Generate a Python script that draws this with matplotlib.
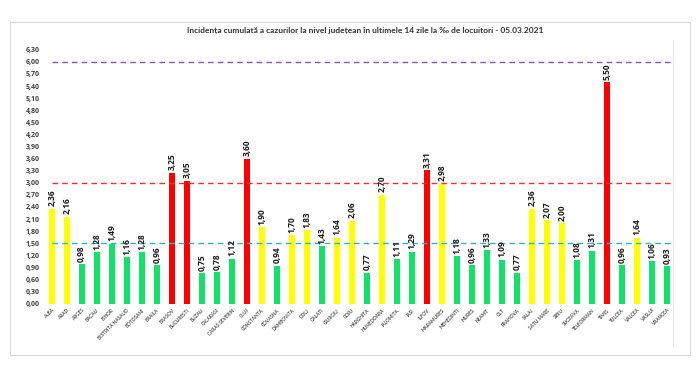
import matplotlib
matplotlib.use("Agg")
import matplotlib.pyplot as plt
from matplotlib.patches import Rectangle
from matplotlib.lines import Line2D
import numpy as np

plt.rcParams['font.family'] = ['Lato', 'DejaVu Sans']

counties = ["ALBA", "ARAD", "ARGES", "BACAU", "BIHOR", "BISTRITA NASAUD", "BOTOSANI", "BRAILA",
            "BRASOV", "BUCURESTI", "BUZAU", "CALARASI", "CARAS SEVERIN", "CLUJ", "CONSTANTA",
            "COVASNA", "DAMBOVITA", "DOLJ", "GALATI", "GIURGIU", "GORJ", "HARGHITA", "HUNEDOARA",
            "IALOMITA", "IASI", "ILFOV", "MARAMURES", "MEHEDINTI", "MURES", "NEAMT", "OLT",
            "PRAHOVA", "SALAJ", "SATU MARE", "SIBIU", "SUCEAVA", "TELEORMAN", "TIMIS", "TULCEA",
            "VALCEA", "VASLUI", "VRANCEA"]
values = [2.36, 2.16, 0.98, 1.28, 1.49, 1.16, 1.28, 0.96,
          3.25, 3.05, 0.75, 0.78, 1.12, 3.60, 1.90,
          0.94, 1.70, 1.83, 1.43, 1.64, 2.06, 0.77, 2.70,
          1.11, 1.29, 3.31, 2.98, 1.18, 0.96, 1.33, 1.09,
          0.77, 2.36, 2.07, 2.00, 1.08, 1.31, 5.50, 0.96,
          1.64, 1.06, 0.93]
thresholds = [1.5, 3.0, 6.0]
threshold_colors = ["#2fb3c9", "#ff2a2a", "#8a4fb8"]
title = "Incidența cumulată a cazurilor la nivel județean în ultimele 14 zile la ‰ de locuitori - 05.03.2021"

def bar_color(v):
    if v < 1.5:
        return "#13e26a"
    if v <= 3.0:
        return "#ffff00"
    return "#ff0000"

fig = plt.figure(figsize=(7.0, 3.79), dpi=100)
fig.patch.set_facecolor("white")

# outer frame
fig.add_artist(Rectangle((10/700, 1 - 355/379), 680/700, 333/379, transform=fig.transFigure,
                         fill=False, edgecolor="#d9d9d9", linewidth=0.8))

ax = fig.add_axes([44.2/700, 75.3/379, 630.3/700, 253.9/379])
x = np.arange(len(counties))
colors = [bar_color(v) for v in values]
ax.bar(x, values, width=0.42, color=colors, zorder=2)

for thr, c in zip(thresholds, threshold_colors):
    ax.hlines(thr, 0, len(counties) - 0.6, colors=c, linestyles=(0, (4, 3)), linewidth=1.0, zorder=3)

for xi, v in zip(x, values):
    ax.text(xi, v + 0.06, f"{v:.2f}".replace(".", ","), rotation=90, ha="center", va="bottom",
            fontsize=6, fontweight="bold", color="#1a1a1a", family=["Open Sans", "DejaVu Sans"])

ax.set_xlim(-0.5, len(counties) - 0.5)
ax.set_ylim(0, 6.3)
yt = np.round(np.arange(0, 6.31, 0.3), 2)
ax.set_yticks(yt)
ax.set_yticklabels([f"{t:.2f}".replace(".", ",") for t in yt], fontsize=5, fontweight="bold",
                   color="#404040", family=["Open Sans", "DejaVu Sans"])
ax.set_xticks(x)
ax.set_xticklabels(counties, rotation=45, ha="right", rotation_mode="anchor", fontsize=3.4,
                   color="#555555", fontweight="bold")
ax.tick_params(axis="both", length=0, pad=3)
for s in ax.spines.values():
    s.set_visible(False)

fig.add_artist(Line2D([673/700, 673/700], [1 - 345/379, 1 - 40/379], transform=fig.transFigure,
                      color="#e6e6e6", linewidth=0.7))

fig.text(365/700, 1 - 30/379, title, ha="center", va="center", fontsize=6, fontweight="bold", color="#333333")

fig.savefig("out.png", dpi=100, facecolor="white")
